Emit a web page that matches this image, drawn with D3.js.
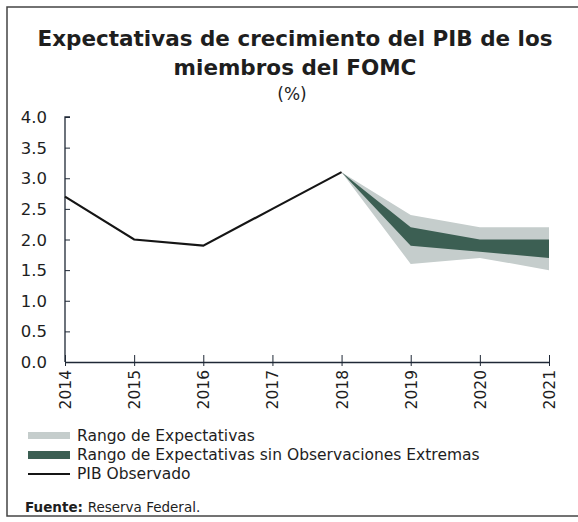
<!DOCTYPE html>
<html>
<head>
<meta charset="utf-8">
<script src="https://cdn.jsdelivr.net/npm/d3@7"></script>
<style>
  body { margin: 0; background: #fff; }
  text { font-family: "DejaVu Sans", "Noto Sans", sans-serif; fill: #1e1e1e; }
</style>
</head>
<body>
<div id="chart"></div>
<script>
// observed GDP
var years = [2014, 2015, 2016, 2017, 2018, 2019, 2020, 2021];
var observedYears = [2014, 2015, 2016, 2017, 2018];
var observed = [2.7, 2.0, 1.9, 2.5, 3.1];
// projections (start from last observed point)
var projYears = [2018, 2019, 2020, 2021];
var rangeLow = [3.1, 1.6, 1.7, 1.5];
var rangeHigh = [3.1, 2.4, 2.2, 2.2];
var ctLow = [3.1, 1.9, 1.8, 1.7];
var ctHigh = [3.1, 2.2, 2.0, 2.0];
var yTicks = [0, 0.5, 1, 1.5, 2, 2.5, 3, 3.5, 4];
var legendLabels = ["Rango de Expectativas", "Rango de Expectativas sin Observaciones Extremas", "PIB Observado"];

var W = 578, H = 522;
var lightCol = "#c5cdcc", darkCol = "#3c5f53", axisCol = "#1f2836";

var svg = d3.select("#chart").append("svg")
    .attr("width", W).attr("height", H);

// frame
svg.append("rect")
    .attr("x", 7).attr("y", 7).attr("width", 572).attr("height", 509)
    .attr("fill", "none").attr("stroke", "#444").attr("stroke-width", 1.5);

// title
svg.append("text").attr("x", 295).attr("y", 46).attr("text-anchor", "middle")
    .style("font-size", "21.5px").style("font-weight", "bold")
    .text("Expectativas de crecimiento del PIB de los");
svg.append("text").attr("x", 295).attr("y", 75).attr("text-anchor", "middle")
    .style("font-size", "21.5px").style("font-weight", "bold")
    .text("miembros del FOMC");
svg.append("text").attr("x", 292).attr("y", 100).attr("text-anchor", "middle")
    .style("font-size", "17px")
    .text("(%)");

var x = d3.scaleLinear().domain([2014, 2021]).range([65, 549]);
var y = d3.scaleLinear().domain([0, 4]).range([362, 117]);

// bands
var area = function(lo, hi) {
    return d3.area()
        .x(function(d, i) { return x(projYears[i]); })
        .y0(function(d, i) { return y(lo[i]); })
        .y1(function(d, i) { return y(hi[i]); })(projYears);
};
svg.append("path").attr("d", area(rangeLow, rangeHigh)).attr("fill", lightCol);
svg.append("path").attr("d", area(ctLow, ctHigh)).attr("fill", darkCol);

// y axis
var yAxis = svg.append("g").attr("transform", "translate(65,0)")
    .call(d3.axisRight(y).tickValues(yTicks).tickSize(5).tickFormat(""));
yAxis.select(".domain").attr("d", "M5,117H0V362").attr("stroke", axisCol).attr("stroke-width", 1.3);
yAxis.selectAll(".tick line").attr("stroke", axisCol);
svg.selectAll(".ylab").data(yTicks).enter().append("text")
    .attr("class", "ylab")
    .attr("x", 47).attr("y", function(d) { return y(d) + 6; })
    .attr("text-anchor", "end")
    .style("font-size", "16.5px")
    .text(function(d) { return d3.format(".1f")(d); });

// x axis
var xAxis = svg.append("g").attr("transform", "translate(0,362)")
    .call(d3.axisBottom(x).tickValues(years).tickSize(0).tickFormat(""));
xAxis.select(".domain").attr("stroke", axisCol).attr("stroke-width", 1.3);
xAxis.selectAll(".tick line").attr("stroke", axisCol).attr("y1", -7).attr("y2", 4);
svg.selectAll(".xlab").data(years).enter().append("text")
    .attr("class", "xlab")
    .attr("transform", function(d) { return "translate(" + (x(d) + 6) + ",370) rotate(-90)"; })
    .attr("text-anchor", "end")
    .style("font-size", "15.5px")
    .text(function(d) { return d; });

// observed line
var line = d3.line()
    .x(function(d, i) { return x(observedYears[i]); })
    .y(function(d) { return y(d); });
svg.append("path").attr("d", line(observed))
    .attr("fill", "none").attr("stroke", "#151515").attr("stroke-width", 2.2);

// legend
var ly = [436, 455, 474];
svg.append("rect").attr("x", 28).attr("y", ly[0] - 4).attr("width", 42).attr("height", 7).attr("fill", lightCol);
svg.append("rect").attr("x", 28).attr("y", ly[1] - 4).attr("width", 42).attr("height", 8).attr("fill", darkCol);
svg.append("line").attr("x1", 28).attr("x2", 70).attr("y1", ly[2]).attr("y2", ly[2])
    .attr("stroke", "#151515").attr("stroke-width", 2);
svg.selectAll(".leg").data(legendLabels).enter().append("text")
    .attr("class", "leg")
    .attr("x", 77).attr("y", function(d, i) { return ly[i] + 5; })
    .style("font-size", "15.5px")
    .text(function(d) { return d; });

var src = svg.append("text").attr("x", 25).attr("y", 512).style("font-size", "13.5px");
src.append("tspan").style("font-weight", "bold").text("Fuente: ");
src.append("tspan").text("Reserva Federal.");
</script>
</body>
</html>
